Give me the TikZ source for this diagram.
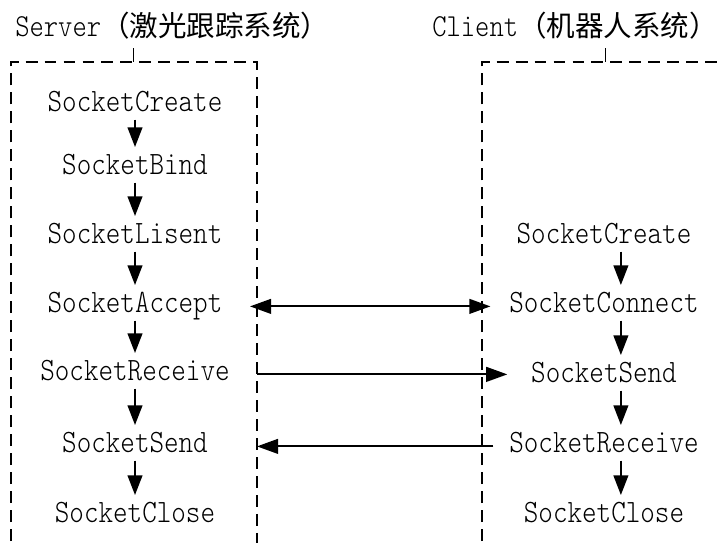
\documentclass[tikz,border=0pt]{standalone}
\usepackage{fontspec}
\newfontfamily\lab[FakeStretch=0.85]{lmmonolt10-regular.otf}
\newfontfamily\cjk{Noto Sans CJK SC}
\usetikzlibrary{arrows.meta}

\tikzset{
  lbl/.style={anchor=base, inner sep=0pt, text height=14pt, text depth=6pt,
    font=\lab\fontsize{23.2}{26}\selectfont},
  ttl/.style={anchor=base west, inner sep=0pt, font=\lab\fontsize{22.8}{26}\selectfont},
  box/.style={line width=1pt, dash pattern=on 8.5pt off 5pt},
  down/.style={line width=1.3pt, -{Triangle[length=14pt,width=10.5pt]}, shorten >=5pt},
  msg/.style={line width=1.3pt, -{Triangle[length=15pt,width=10.5pt]}},
  both/.style={line width=1.3pt, {Triangle[length=15pt,width=10.5pt]}-{Triangle[length=15pt,width=10.5pt]}},
}

\begin{document}
\begin{tikzpicture}[x=0.025cm,y=-0.025cm]
  \useasboundingbox (0,0) rectangle (720,542);
  \node[ttl] (srv) at (15,36) {Server{\cjk\fontsize{20.3}{24}\selectfont （激光跟踪系统）}};
  \node[ttl] (cli) at (432,36) {Client{\cjk\fontsize{20.3}{24}\selectfont （机器人系统）}};
  \coordinate (sL) at (11,62);
  \coordinate (sR) at (257,62);
  \coordinate (cL) at (482,62);
  \draw[box] (11,560) -- (sL) -- (sR) -- (257,560);
  \draw[box] (482,560) -- (cL) -- (740,62);
  \draw[line width=0.6pt] (133,48) -- (133,62);
  \draw[line width=0.6pt] (605,48) -- (605,62);

  \foreach \t/\y [count=\i] in {SocketCreate/111,SocketBind/174,SocketLisent/243,
      SocketAccept/312,SocketReceive/380,SocketSend/452,SocketClose/522}
    \node[lbl] (s\i) at (135,\y) {\t};
  \foreach \t/\y [count=\i] in {SocketCreate/243,SocketConnect/312,SocketSend/382,
      SocketReceive/452,SocketClose/522}
    \node[lbl] (c\i) at (604,\y) {\t};

  \foreach \i/\j in {1/2,2/3,3/4,4/5,5/6,6/7}
    \draw[down] (s\i.south) -- (s\j.north);
  \foreach \i/\j in {1/2,2/3,3/4,4/5}
    \draw[down] ([xshift=12pt]c\i.south) -- ([xshift=12pt]c\j.north);

  \draw[both] ([xshift=-5pt]s4 -| sR) -- ([xshift=6pt]s4 -| cL);
  \draw[msg] (s5 -| sR) -- ([xshift=18pt]s5 -| cL);
  \draw[msg] ([xshift=8pt]c4 -| cL) -- (c4 -| sR);
\end{tikzpicture}
\end{document}
